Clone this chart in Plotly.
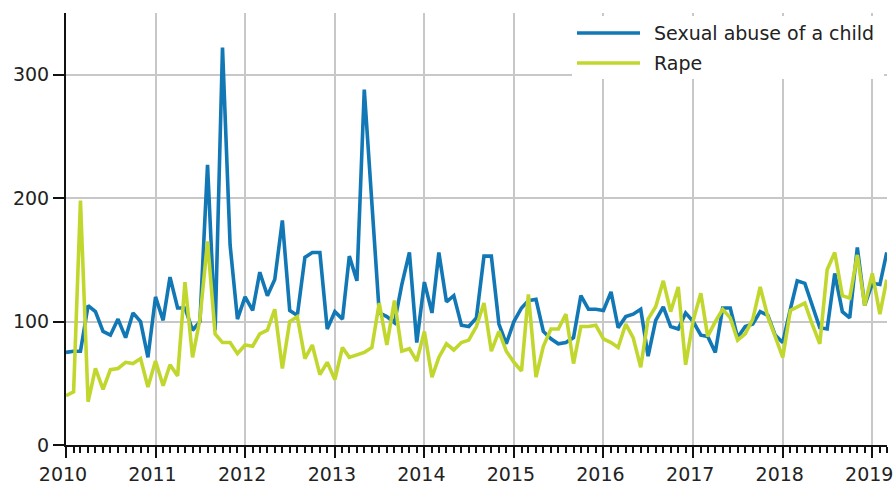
import pandas as pd
import plotly.graph_objects as go

months = pd.date_range("2010-01-01", "2019-03-01", freq="MS")

child_abuse = [
    75, 76, 76, 113, 108, 92, 89, 102, 87, 107, 100, 71,
    120, 101, 136, 111, 111, 93, 100, 227, 93, 322, 162, 102,
    120, 109, 140, 121, 134, 182, 109, 105, 152, 156, 156, 94,
    108, 102, 153, 133, 288, 195, 107, 104, 99, 130, 156, 83,
    132, 107, 156, 116, 121, 97, 96, 103, 153, 153, 98, 82,
    100, 111, 117, 118, 92, 86, 82, 83, 87, 121, 110, 110,
    109, 124, 95, 104, 106, 110, 72, 101, 112, 96, 94, 107,
    100, 89, 88, 75, 111, 111, 87, 96, 98, 108, 105, 89,
    83, 110, 133, 131, 114, 95, 94, 139, 108, 103, 160, 113,
    131, 130, 156,
]

rape = [
    40, 43, 198, 35, 62, 45, 61, 62, 67, 66, 70, 47,
    68, 48, 65, 56, 132, 71, 102, 165, 90, 83, 83, 74,
    81, 80, 90, 93, 110, 62, 100, 104, 70, 81, 57, 67,
    53, 79, 71, 73, 75, 79, 115, 81, 117, 76, 78, 68,
    92, 55, 71, 82, 77, 83, 85, 96, 115, 76, 92, 76,
    67, 60, 122, 55, 80, 94, 94, 106, 66, 96, 96, 97,
    86, 83, 79, 98, 87, 63, 102, 112, 133, 108, 128, 65,
    101, 123, 88, 100, 110, 103, 85, 90, 102, 128, 104, 88,
    71, 109, 112, 115, 98, 82, 142, 156, 121, 119, 154, 113,
    139, 106, 134,
]

series_names = ["Sexual abuse of a child", "Rape"]
series_colors = ["#1277b5", "#c2d72e"]
year_labels = [str(y) for y in range(2010, 2020)]
y_ticks = [0, 100, 200, 300]

FONT = "DejaVu Sans"
FS = 19
W, H = 896, 486
# plot area in page pixels: x 66..887, y 13..445
L, R, T, B = 66, 9, 13, 41
pw, ph = W - L - R, H - T - B


def px_x(p):
    return (p - L) / pw


def px_y(p):
    return (T + ph - p) / ph


fig = go.Figure()
for name, vals, col in zip(series_names, [child_abuse, rape], series_colors):
    fig.add_trace(go.Scatter(x=months, y=vals, mode="lines", name=name,
                             line=dict(color=col, width=3.6), showlegend=False))

fig.update_layout(
    width=W, height=H,
    margin=dict(l=L, r=R, t=T, b=B, autoexpand=False),
    paper_bgcolor="white", plot_bgcolor="white",
    font=dict(family=FONT, size=FS, color="#222"),
    xaxis=dict(
        automargin=False,
        range=["2010-01-01", "2019-03-02"],
        tickmode="array",
        tickvals=[f"{y}-01-01" for y in year_labels],
        ticktext=year_labels,
        ticklabeloverflow="allow",
        ticklabelshift=-3,
        showgrid=True, gridcolor="#c8c8c8", gridwidth=1.5,
        showline=True, linecolor="#111", linewidth=2,
        ticks="outside", ticklen=11, tickwidth=2, tickcolor="#111",
        minor=dict(dtick="M1", tick0="2010-01-01", ticks="outside", ticklen=6,
                   tickwidth=1.5, tickcolor="#111", showgrid=False),
        zeroline=False,
        tickfont=dict(size=FS, color="#222"),
    ),
    yaxis=dict(
        automargin=False,
        range=[0, 350],
        tickvals=y_ticks,
        ticklabeloverflow="allow",
        showgrid=True, gridcolor="#c8c8c8", gridwidth=1.5,
        showline=True, linecolor="#111", linewidth=2,
        ticks="outside", ticklen=11, tickwidth=2, tickcolor="#111",
        zeroline=False,
        tickfont=dict(size=FS, color="#222"),
    ),
)

# legend box drawn over the plot (white background hides grid lines)
shapes = [dict(type="rect", xref="paper", yref="paper",
               x0=px_x(572), x1=px_x(884), y0=px_y(79), y1=px_y(16),
               fillcolor="white", line=dict(width=0), layer="above")]
annotations = []
for i, (name, col) in enumerate(zip(series_names, series_colors)):
    yy = 33 + i * 30
    shapes.append(dict(type="line", xref="paper", yref="paper",
                       x0=px_x(577), x1=px_x(640), y0=px_y(yy), y1=px_y(yy),
                       line=dict(color=col, width=3.6), layer="above"))
    annotations.append(dict(xref="paper", yref="paper", x=px_x(652), y=px_y(yy),
                            xanchor="left", yanchor="middle", text=name,
                            showarrow=False, font=dict(family=FONT, size=FS, color="#222")))
fig.update_layout(shapes=shapes, annotations=annotations)

fig.write_html(
    "out.html",
    config={"displayModeBar": False},
    post_script="document.body.style.margin='0';document.body.style.overflow='hidden';",
)
